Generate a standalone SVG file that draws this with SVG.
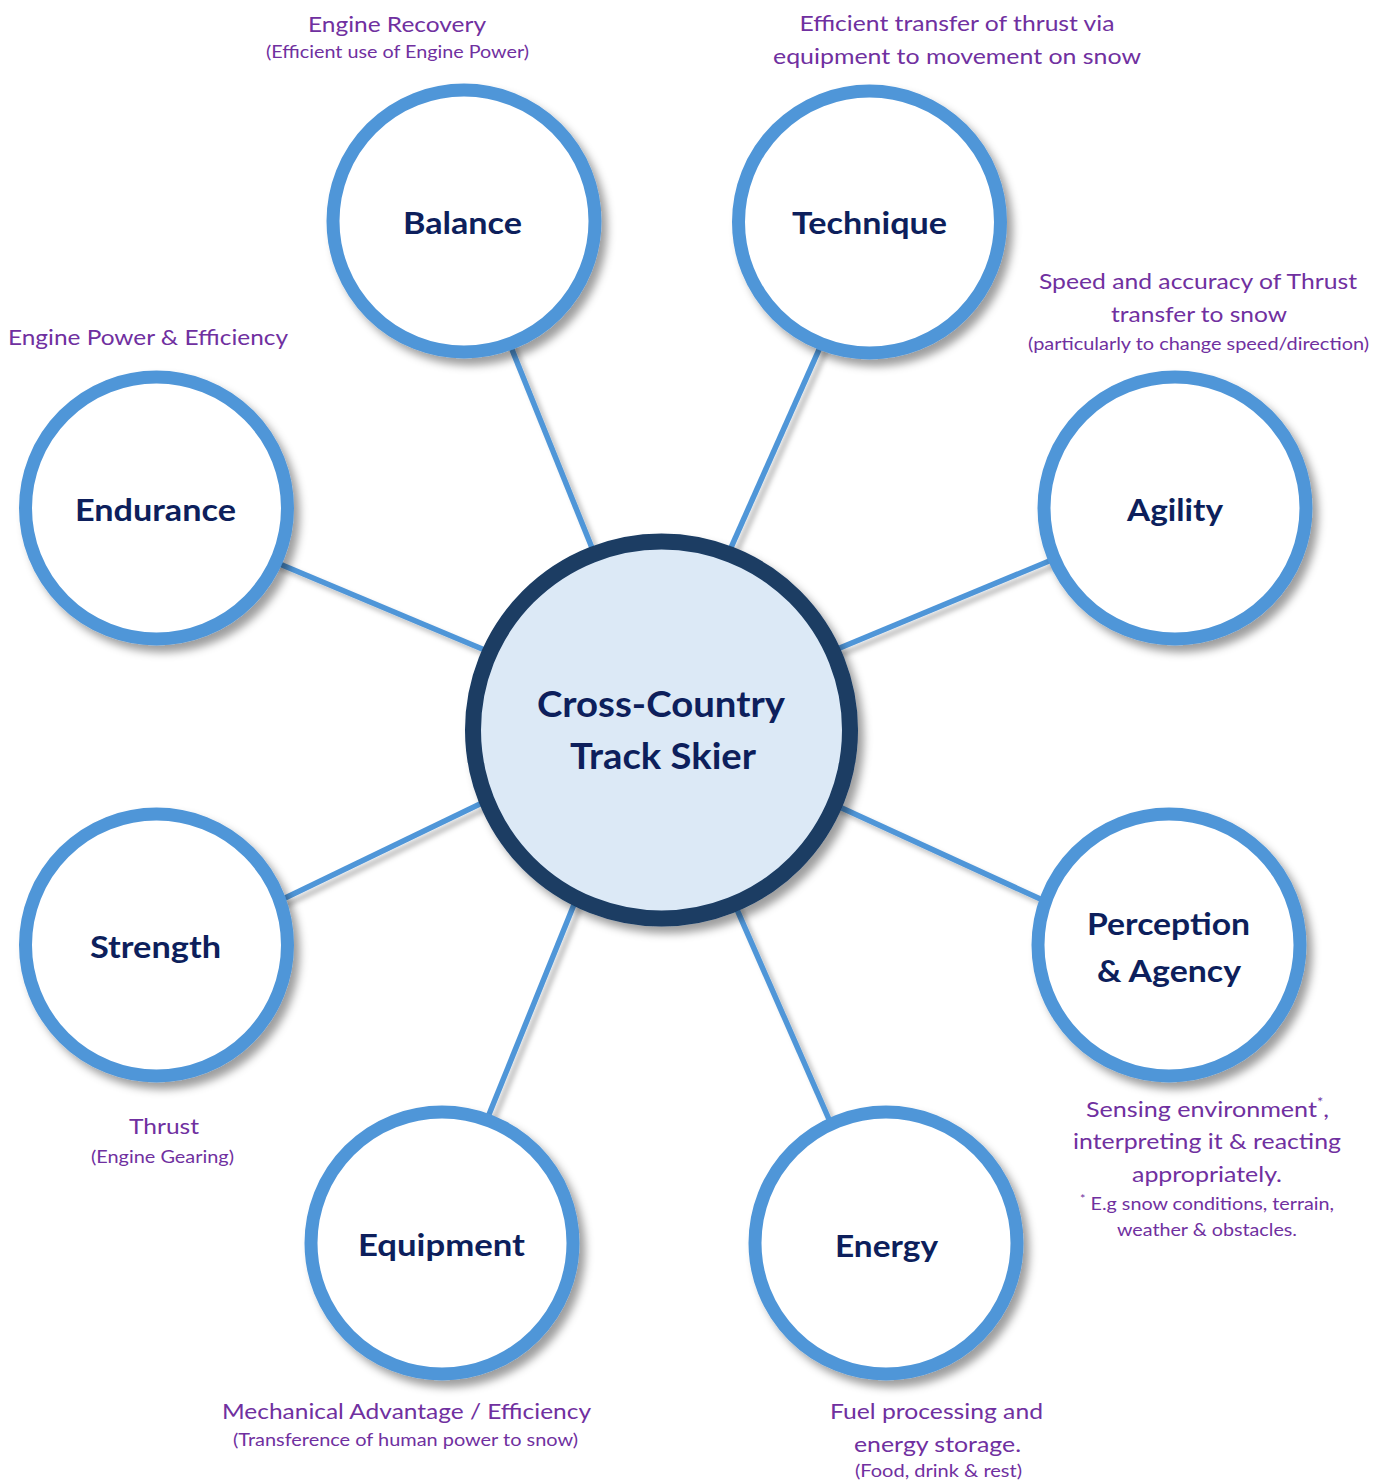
<svg xmlns="http://www.w3.org/2000/svg" width="1385" height="1481" viewBox="0 0 1385 1481">
<defs>
<filter id="sh" x="-20%" y="-20%" width="150%" height="150%">
<feDropShadow dx="6" dy="7" stdDeviation="4.5" flood-color="#000" flood-opacity="0.38"/>
</filter>
<filter id="lsh" x="-20%" y="-20%" width="150%" height="150%">
<feDropShadow dx="5" dy="5" stdDeviation="2.5" flood-color="#000" flood-opacity="0.25"/>
</filter>
</defs>
<style>
.node{fill:#ffffff;stroke:#5096d8;stroke-width:13}
.hub{fill:#dce9f6;stroke:#1a3c64;stroke-width:16}
.lbl{font-family:Lato,"Liberation Sans",sans-serif;font-weight:bold;font-size:31px;fill:#0d1f5c;text-anchor:middle}
.hubl{font-family:Lato,"Liberation Sans",sans-serif;font-weight:bold;font-size:36px;fill:#0d1f5c;text-anchor:middle}
.note{font-family:Lato,"Liberation Sans",sans-serif;font-size:22px;fill:#7030a0;text-anchor:middle}
.small{font-family:Lato,"Liberation Sans",sans-serif;font-size:17px;fill:#7030a0;text-anchor:middle}
.conn{stroke:#5096d8;stroke-width:5.5;fill:none}
</style>
<g id="connectors" filter="url(#lsh)">
<line class="conn" x1="597.5" y1="561.5" x2="505.5" y2="333.5"/>
<line class="conn" x1="724.9" y1="561.3" x2="826.1" y2="333.7"/>
<line class="conn" x1="498.4" y1="655.7" x2="263.6" y2="557.3"/>
<line class="conn" x1="823.5" y1="654.7" x2="1065.5" y2="554.3"/>
<line class="conn" x1="496" y1="796.3" x2="269" y2="905.7"/>
<line class="conn" x1="823.8" y1="799.7" x2="1056.2" y2="906.3"/>
<line class="conn" x1="580.5" y1="888.5" x2="482.5" y2="1130.5"/>
<line class="conn" x1="730" y1="893.7" x2="835" y2="1133"/>
</g>
<g id="hub">
<circle class="hub" cx="661.5" cy="730" r="188.5" filter="url(#sh)"/>
<text class="hubl" x="661" y="717" textLength="248" lengthAdjust="spacingAndGlyphs">Cross-Country</text>
<text class="hubl" x="663" y="769" textLength="186" lengthAdjust="spacingAndGlyphs">Track Skier</text>
</g>
<g id="balance">
<circle class="node" cx="464" cy="221" r="131" filter="url(#sh)"/>
<text class="lbl" x="462.5" y="234" textLength="119" lengthAdjust="spacingAndGlyphs">Balance</text>
</g>
<g id="technique">
<circle class="node" cx="869.5" cy="222" r="131" filter="url(#sh)"/>
<text class="lbl" x="869.5" y="234" textLength="155" lengthAdjust="spacingAndGlyphs">Technique</text>
</g>
<g id="endurance">
<circle class="node" cx="156.5" cy="508" r="131" filter="url(#sh)"/>
<text class="lbl" x="155.5" y="521" textLength="161" lengthAdjust="spacingAndGlyphs">Endurance</text>
</g>
<g id="agility">
<circle class="node" cx="1175" cy="508" r="131" filter="url(#sh)"/>
<text class="lbl" x="1175" y="521" textLength="96" lengthAdjust="spacingAndGlyphs">Agility</text>
</g>
<g id="strength">
<circle class="node" cx="156.5" cy="945" r="131" filter="url(#sh)"/>
<text class="lbl" x="155.5" y="958" textLength="131" lengthAdjust="spacingAndGlyphs">Strength</text>
</g>
<g id="perception">
<circle class="node" cx="1169" cy="945" r="131" filter="url(#sh)"/>
<text class="lbl" x="1168.5" y="935" textLength="163" lengthAdjust="spacingAndGlyphs">Perception</text>
<text class="lbl" x="1169" y="982" textLength="144" lengthAdjust="spacingAndGlyphs">&amp; Agency</text>
</g>
<g id="equipment">
<circle class="node" cx="442" cy="1243" r="131" filter="url(#sh)"/>
<text class="lbl" x="441.5" y="1256" textLength="167" lengthAdjust="spacingAndGlyphs">Equipment</text>
</g>
<g id="energy">
<circle class="node" cx="886" cy="1243" r="131" filter="url(#sh)"/>
<text class="lbl" x="886.5" y="1257" textLength="103" lengthAdjust="spacingAndGlyphs">Energy</text>
</g>
<g id="notes">
<text class="note" x="397" y="32" textLength="178" lengthAdjust="spacingAndGlyphs">Engine Recovery</text>
<text class="small" x="397.5" y="58" textLength="263" lengthAdjust="spacingAndGlyphs">(Efficient use of Engine Power)</text>
<text class="note" x="957" y="31" textLength="315" lengthAdjust="spacingAndGlyphs">Efficient transfer of thrust via</text>
<text class="note" x="957" y="64" textLength="368" lengthAdjust="spacingAndGlyphs">equipment to movement on snow</text>
<text class="note" x="1198" y="289" textLength="318" lengthAdjust="spacingAndGlyphs">Speed and accuracy of Thrust</text>
<text class="note" x="1199" y="322" textLength="176" lengthAdjust="spacingAndGlyphs">transfer to snow</text>
<text class="small" x="1198.5" y="350" textLength="341" lengthAdjust="spacingAndGlyphs">(particularly to change speed/direction)</text>
<text class="note" x="148" y="345" textLength="280" lengthAdjust="spacingAndGlyphs">Engine Power &amp; Efficiency</text>
<text class="note" x="164" y="1134" textLength="70" lengthAdjust="spacingAndGlyphs">Thrust</text>
<text class="small" x="162.5" y="1163" textLength="143" lengthAdjust="spacingAndGlyphs">(Engine Gearing)</text>
<text class="note" x="406.5" y="1419" textLength="369" lengthAdjust="spacingAndGlyphs">Mechanical Advantage / Efficiency</text>
<text class="small" x="405.5" y="1446" textLength="345" lengthAdjust="spacingAndGlyphs">(Transference of human power to snow)</text>
<text class="note" x="936.5" y="1419" textLength="213" lengthAdjust="spacingAndGlyphs">Fuel processing and</text>
<text class="note" x="937.5" y="1452" textLength="167" lengthAdjust="spacingAndGlyphs">energy storage.</text>
<text class="small" x="938.5" y="1477" textLength="167" lengthAdjust="spacingAndGlyphs">(Food, drink &amp; rest)</text>
<text class="note" x="1207.5" y="1117" textLength="243" lengthAdjust="spacingAndGlyphs">Sensing environment<tspan font-size="13" dy="-10">*</tspan><tspan dy="10">,</tspan></text>
<text class="note" x="1207" y="1149" textLength="268" lengthAdjust="spacingAndGlyphs">interpreting it &amp; reacting</text>
<text class="note" x="1207" y="1182" textLength="150" lengthAdjust="spacingAndGlyphs">appropriately.</text>
<text class="small" x="1207" y="1210" textLength="254" lengthAdjust="spacingAndGlyphs"><tspan font-size="11" dy="-7">*</tspan><tspan dy="7"> E.g snow conditions, terrain,</tspan></text>
<text class="small" x="1207" y="1236" textLength="180" lengthAdjust="spacingAndGlyphs">weather &amp; obstacles.</text>
</g>
</svg>
